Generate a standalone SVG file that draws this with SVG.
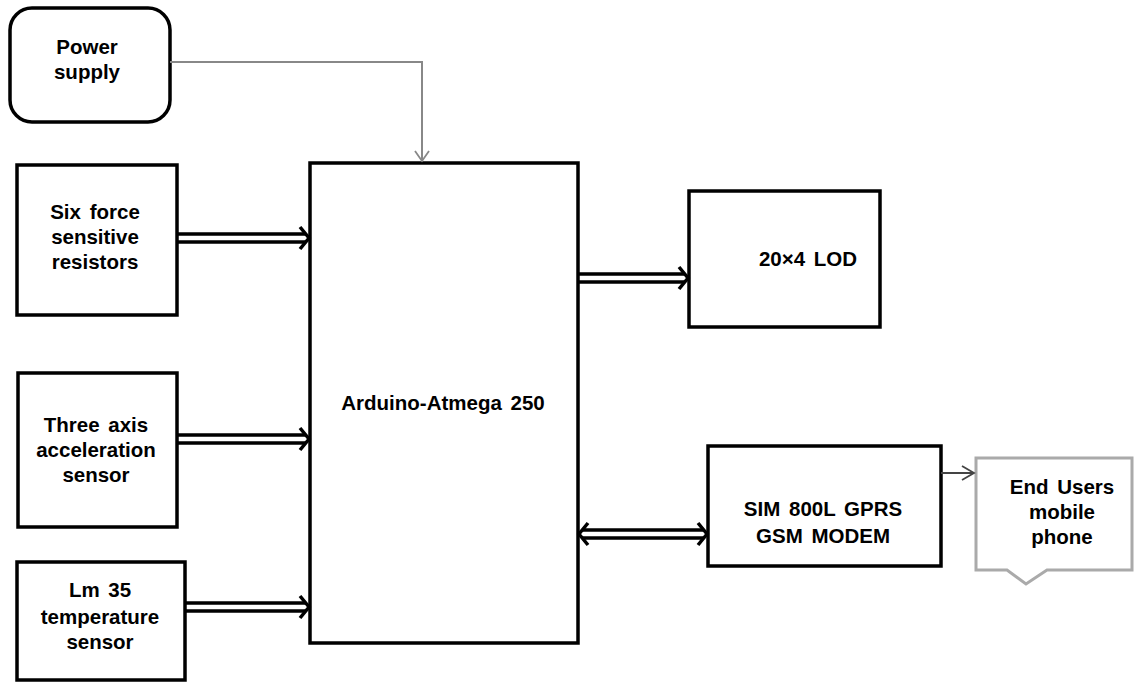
<svg xmlns="http://www.w3.org/2000/svg" width="1139" height="683" viewBox="0 0 1139 683">
<style>
.box{fill:#fff;stroke:#000;stroke-width:3.5}
.t{font-family:"Liberation Sans",Arial,sans-serif;font-weight:bold;font-size:20.5px;word-spacing:3px;fill:#000;text-anchor:middle}
.dl{stroke:#000;stroke-width:3.5;fill:none}
.hd{stroke:#000;stroke-width:3.5;fill:none;stroke-linejoin:miter}
</style>
<rect width="1139" height="683" fill="#fff"/>
<g id="power">
<rect class="box" x="10" y="8" width="160" height="114" rx="22"/>
<text class="t" x="87" y="54">Power</text>
<text class="t" x="87" y="79">supply</text>
</g>
<g id="arduino">
<rect class="box" x="310" y="163" width="268" height="480"/>
<text class="t" x="443" y="410">Arduino-Atmega 250</text>
</g>
<g id="fsr">
<rect class="box" x="17" y="165" width="160" height="150"/>
<text class="t" x="95" y="219">Six force</text>
<text class="t" x="95" y="244">sensitive</text>
<text class="t" x="95" y="269">resistors</text>
</g>
<g id="accel">
<rect class="box" x="18" y="373" width="159" height="154"/>
<text class="t" x="96" y="432">Three axis</text>
<text class="t" x="96" y="457">acceleration</text>
<text class="t" x="96" y="482">sensor</text>
</g>
<g id="lm35">
<rect class="box" x="17" y="562" width="168" height="118"/>
<text class="t" x="100" y="597">Lm 35</text>
<text class="t" x="100" y="624">temperature</text>
<text class="t" x="100" y="649">sensor</text>
</g>
<g id="lcd">
<rect class="box" x="689" y="191" width="191" height="136"/>
<text class="t" x="808" y="266">20×4 LOD</text>
</g>
<g id="gsm">
<rect class="box" x="708" y="446" width="233" height="120"/>
<text class="t" x="823" y="516">SIM 800L GPRS</text>
<text class="t" x="823" y="543">GSM MODEM</text>
</g>
<g id="phone">
<path d="M976,458 H1132 V570 H1047 L1026,584 L1007,570 H976 Z" fill="#fff" stroke="#aaa" stroke-width="3"/>
<text class="t" x="1062" y="494">End Users</text>
<text class="t" x="1062" y="519">mobile</text>
<text class="t" x="1062" y="544">phone</text>
</g>
<g id="connectors">
<path d="M170,62 H422 V161" fill="none" stroke="#888" stroke-width="2"/>
<path d="M415,151 L422,161 L429,151" fill="none" stroke="#888" stroke-width="1.8"/>
<path class="dl" d="M177,234 H306 M177,242 H306"/>
<path class="hd" d="M300,227 L309,238 L300,249"/>
<path class="dl" d="M177,435 H306 M177,443 H306"/>
<path class="hd" d="M300,428 L309,439 L300,450"/>
<path class="dl" d="M185,603 H306 M185,611 H306"/>
<path class="hd" d="M300,596 L309,607 L300,618"/>
<path class="dl" d="M578,274 H685 M578,282 H685"/>
<path class="hd" d="M679,267 L688,278 L679,289"/>
<path class="dl" d="M582,530 H704 M582,538 H704"/>
<path class="hd" d="M698,523 L707,534 L698,545"/>
<path class="hd" d="M588,523 L579,534 L588,545"/>
<path d="M941,473 H974" fill="none" stroke="#444" stroke-width="1.8"/>
<path d="M962,466 L974,473 L962,480" fill="none" stroke="#444" stroke-width="1.8"/>
</g>
</svg>
